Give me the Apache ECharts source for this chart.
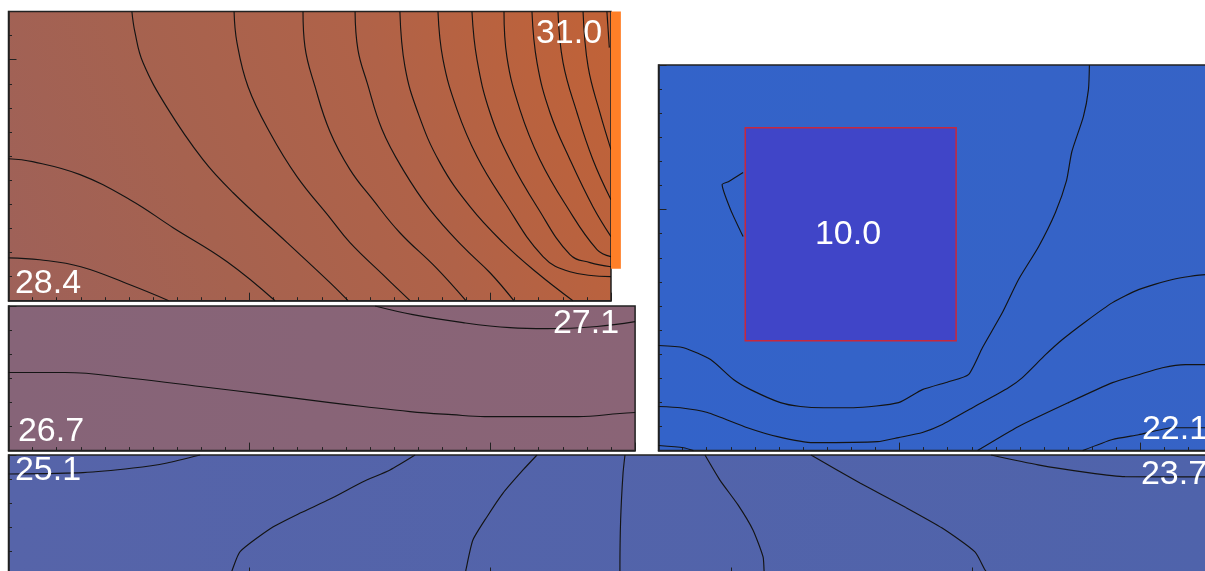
<!DOCTYPE html>
<html><head><meta charset="utf-8">
<style>html,body{margin:0;padding:0;background:#fff;overflow:hidden;width:1205px;height:571px}#c{width:1300px;height:640px}</style>
<script src="https://cdn.jsdelivr.net/npm/echarts@6/dist/echarts.min.js"></script>
</head><body><div id="c"></div>
<script>
// Contour lines, in axis units: [x, y]
const a1=[[0,1.78],[1.3,1.70],[3.0,1.41],[5.04,0.66],[6.65,0]];
const a2=[[0,5.89],[1.0,5.77],[2.97,5.23],[5.04,4.19],[6.83,3.03],[9.07,1.62],[11.06,0]];
const a3=[[5.12,12],[5.25,11.12],[5.58,9.88],[6.58,8.01],[8.07,5.85],[9.32,4.48],[11.56,2.41],[13.34,0.75],[14.09,0]];
const a4=[[9.36,12],[9.48,10.71],[9.94,8.88],[10.85,6.97],[11.97,5.15],[13.34,3.44],[14.17,2.41],[15.62,1.0],[16.66,0]];
const a5=[[12.22,12],[12.30,10.54],[12.72,8.88],[13.34,7.01],[14.17,5.44],[15.12,4.19],[16.24,2.82],[17.74,1.37],[18.98,0]];
const a6=[[14.38,12],[14.50,10.41],[14.88,9.05],[15.50,7.10],[16.37,5.44],[17.49,3.78],[18.86,2.24],[19.98,1.16],[20.97,0]];
const a7=[[16.24,12],[16.45,9.71],[16.99,7.80],[17.90,5.73],[19.15,3.90],[20.52,2.41],[21.93,1.16],[23.42,0]];
const a8=[[17.82,12],[18.03,10.0],[18.61,7.93],[19.44,5.98],[20.52,4.19],[22.18,1.83],[23.30,1.20],[25,1.0]];
const a9=[[19.23,12],[19.44,10.0],[19.98,7.80],[20.81,5.85],[21.93,3.90],[23.30,1.91],[24.13,1.58],[25,1.41]];
const a10=[[20.56,12],[20.68,10.12],[21.22,7.93],[22.05,5.85],[23.17,3.90],[24.42,2.12],[25,1.83]];
const a11=[[21.72,12],[21.93,9.88],[22.47,7.80],[23.30,5.85],[24.25,3.90],[25,2.66]];
const a12=[[22.80,12],[23.01,9.88],[23.59,7.80],[24.25,5.85],[25,4.19]];
const a13=[[23.84,12],[24.05,9.71],[24.54,7.80],[25,6.27]];
const a14=[[24.83,12],[24.93,10.5]];
const b1=[[0,3.24],[2.34,3.24],[5.17,2.99],[7.95,2.66],[10.73,2.32],[13.34,1.99],[14.71,1.83],[16.66,1.62],[18.40,1.49],[19.77,1.41],[23.63,1.41],[25.37,1.54],[26,1.58]];
const b2=[[15.21,6],[16.78,5.64],[18.86,5.31],[20.81,5.10],[22.35,5.06],[24.42,5.15],[26,5.35]];
const c1=[[3.51,11.54],[2.90,11.16],[2.64,11.04],[2.99,10.0],[3.51,8.88]];
const c2=[[17.88,16],[17.84,14.98],[17.63,13.86],[17.15,12.4],[16.93,11.2],[16.47,9.88],[15.77,8.46],[14.94,7.10],[14.27,5.73],[13.44,4.27],[12.86,3.15],[12.03,2.86],[10.95,2.53],[9.96,1.99],[8.09,1.78],[6.85,1.78],[5.89,1.83],[5.06,1.99],[3.82,2.53],[3.11,2.95],[2.16,3.78],[1.04,4.27],[0,4.36]];
const c3=[[24,7.3],[22.70,7.30],[21.33,7.10],[19.92,6.68],[18.84,6.14],[17.72,5.35],[16.76,4.61],[16.06,3.98],[15.10,3.03],[14.52,2.61],[13.03,1.78],[11.78,1.08],[10.95,0.75],[9.96,0.54],[9.09,0.37],[6.43,0.33],[4.94,0.58],[3.69,0.95],[2.03,1.58],[0.91,1.78],[0,1.83]];
const c4=[[24,3.57],[22.70,3.57],[21.87,3.57],[20.91,3.44],[19.92,3.15],[18.84,2.82],[17.01,1.99],[14.94,1.0],[13.24,0]];
const c5=[[24,0.95],[22.70,0.95],[21.33,0.95],[19.92,0.66],[18.84,0.46],[17.60,0]];
const c6=[[0,0.21],[1.04,0.12],[1.45,0]];
const d1=[[0,4.21],[3.09,4.27],[5.17,4.46],[6.58,4.67],[7.95,5]];
const d2=[[16.87,5],[15.83,4.38],[14.71,3.89],[13.34,3.17],[12.10,2.59],[10.97,2.01],[9.61,0.99],[9.27,0.19],[9.19,0]];
const d3=[[21.93,5],[21.35,4.38],[20.52,3.42],[19.85,2.43],[19.27,1.47],[18.98,0.23],[18.95,0]];
const d4=[[25.58,5],[25.50,4.25],[25.40,2.30],[25.37,0.23],[25.37,0]];
const d5=[[28.90,5],[29.52,3.96],[30.27,2.93],[30.89,1.89],[31.31,0.77],[31.35,0.23],[31.36,0]];
const d6=[[33.30,5],[35.33,3.84],[37.2,2.84],[38.74,1.97],[40.10,0.98],[40.52,0.23],[40.7,0]];
const d7=[[40.77,5],[42.72,4.59],[44.79,4.27],[46.33,4.10],[49.65,4.09],[50,4.09]];

const contoursA=[a1,a2,a3,a4,a5,a6,a7,a8,a9,a10,a11,a12,a13,a14];
const contoursB=[b1,b2];
const contoursC=[c1,c2,c3,c4,c5,c6];
const contoursD=[d1,d2,d3,d4,d5,d6,d7];

// Region extents in axis units: [x0, y0, x1, y1]
const sourceStrip=[25,1.33,25.41,12];
const coldBlock=[3.6,4.56,12.35,13.4];
const labelTexts=['31.0','28.4','27.1','26.7','25.1','23.7','22.1','10.0'];

const unit=24.1;
const G=(x,y,w,h)=>({left:x,top:y,width:w*unit,height:h*unit});
const lg=(x,y,x2,y2,c)=>new echarts.graphic.LinearGradient(x,y,x2,y2,c.map((s,i)=>({offset:i/(c.length-1),color:s})));
const panels=[
 {g:G(8.5,11.5,25,12),xm:25,ym:12,lines:contoursA,smooth:0.42,bg:lg(0,1,1,0.2,['#9e6159','#a6624f','#b06248','#c06238'])},
 {g:G(8.5,306,26,6),xm:26,ym:6,lines:contoursB,smooth:0.4,bg:lg(0,0,1,0,['#866478','#8a6476'])},
 {g:G(658.5,65,24,16),xm:24,ym:16,lines:contoursC,smooth:0.2,bg:lg(0,0,1,0,['#3363c9','#3663c6'])},
 {g:G(8.5,455,50,5),xm:50,ym:5,lines:contoursD,smooth:0.2,bg:lg(0,0,1,0,['#5664a9','#4f63ab'])}
];
const edge='#222';
const axisBase=(long,extra)=>Object.assign({
  type:'value',min:0,interval:long?10:1,
  axisLabel:{show:false},splitLine:{show:false},
  axisLine:{show:!long,onZero:false,lineStyle:{color:edge,width:1.5}},
  axisTick:{show:true,inside:true,length:long?8:3.5,lineStyle:{color:edge,width:1}}
},extra);

const grid=[],xAxis=[],yAxis=[],series=[];
panels.forEach((p,i)=>{
  grid.push(Object.assign({show:true,backgroundColor:p.bg,borderColor:edge,borderWidth:1.5,containLabel:false},p.g));
  xAxis.push(axisBase(false,{gridIndex:i,max:p.xm,position:'bottom'}));
  xAxis.push(axisBase(true,{gridIndex:i,max:p.xm,position:'bottom'}));
  yAxis.push(axisBase(false,{gridIndex:i,max:p.ym,position:'left'}));
  yAxis.push(axisBase(true,{gridIndex:i,max:p.ym,position:'left'}));
  series.push({type:'line',xAxisIndex:i*2+1,yAxisIndex:i*2+1,data:[],silent:true});
  p.lines.forEach(l=>series.push({type:'line',xAxisIndex:i*2,yAxisIndex:i*2,data:l,showSymbol:false,symbol:'none',smooth:p.smooth,silent:true,z:3,lineStyle:{color:'#141414',width:1.15}}));
});
const box=(ext,style,xi,yi)=>({type:'custom',xAxisIndex:xi,yAxisIndex:yi,silent:true,z:4,data:[ext],clip:false,
  renderItem:(params,api)=>{
    const a=api.coord([api.value(0),api.value(1)]),b=api.coord([api.value(2),api.value(3)]);
    return {type:'rect',shape:{x:a[0],y:b[1],width:b[0]-a[0],height:a[1]-b[1]},style};
  },encode:{x:[0,2],y:[1,3]}});
series.push(box(sourceStrip,{fill:'#ff7f27'},0,0));
series.push(box(coldBlock,{fill:'#4045c8',stroke:'#c8283c',lineWidth:1.5},4,4));

const spots=[[569,34],[48,284],[586,324],[51,432],[48,471],[1174,475],[1175,430],[848,235]];
const graphic=labelTexts.map((t,i)=>({type:'text',x:spots[i][0],y:spots[i][1],z:10,silent:true,
  style:{text:t,fill:'#fff',font:'34px "Liberation Sans", Arial, sans-serif',textAlign:'center',textVerticalAlign:'middle'}}));

const chart=echarts.init(document.getElementById('c'),null,{renderer:'canvas'});
chart.setOption({animation:false,backgroundColor:'#fff',grid,xAxis,yAxis,series,graphic,tooltip:{show:false},legend:{show:false}});
</script></body></html>
